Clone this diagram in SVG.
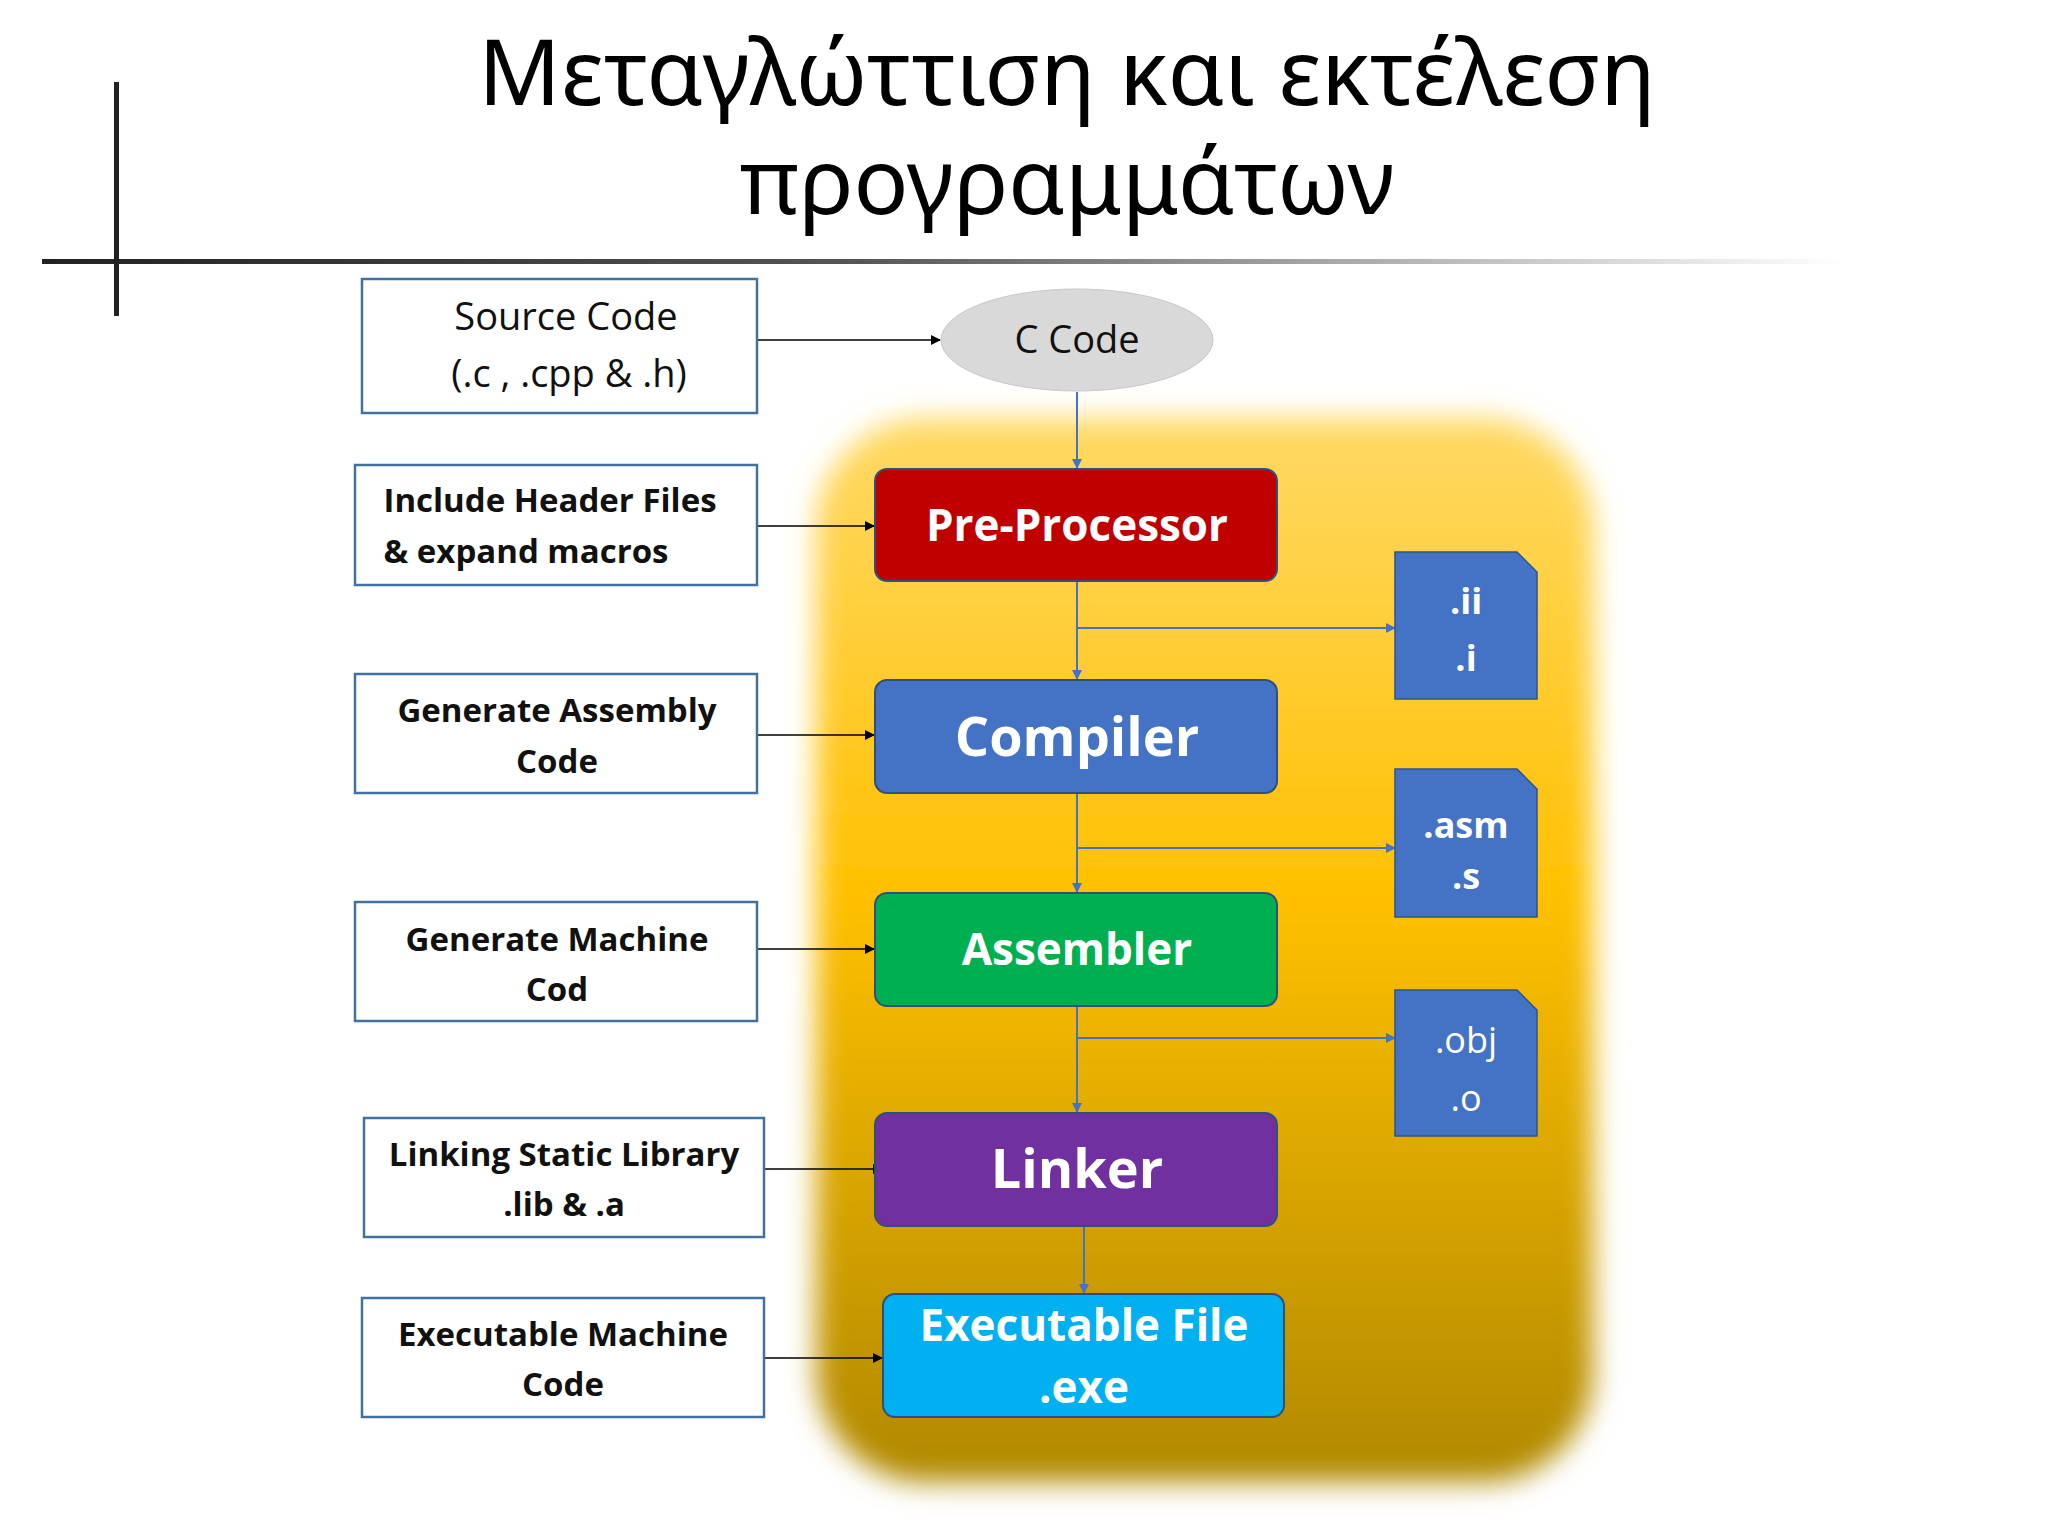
<svg xmlns="http://www.w3.org/2000/svg" width="2048" height="1536" viewBox="0 0 2048 1536">
<defs>
<linearGradient id="hl" x1="0" x2="1" y1="0" y2="0"><stop offset="0" stop-color="#222"/><stop offset="0.45" stop-color="#555"/><stop offset="1" stop-color="#fff"/></linearGradient>
<linearGradient id="yb" x1="0" x2="0" y1="0" y2="1"><stop offset="0" stop-color="#ffd966"/><stop offset="0.45" stop-color="#ffc000"/><stop offset="1" stop-color="#b08800"/></linearGradient>
<filter id="bl" x="-10%" y="-10%" width="120%" height="120%"><feGaussianBlur stdDeviation="14"/></filter>
<marker id="ak" markerWidth="10" markerHeight="10" refX="9" refY="5" orient="auto" markerUnits="userSpaceOnUse"><path d="M0,0 L10,5 L0,10 z" fill="#000"/></marker>
<marker id="ab" markerWidth="10" markerHeight="10" refX="9" refY="5" orient="auto" markerUnits="userSpaceOnUse"><path d="M0,0 L10,5 L0,10 z" fill="#4472c4"/></marker>
<style>
.lb{fill:#fff;stroke:#41719c;stroke-width:2.5}
.lt{font-family:"Open Sans","Liberation Sans",sans-serif;font-weight:bold;font-size:33px;fill:#111;text-anchor:middle}
.st{font-family:"Open Sans","Liberation Sans",sans-serif;font-size:38px;fill:#111;text-anchor:middle}
.nt{font-family:"Open Sans","Liberation Sans",sans-serif;font-weight:bold;fill:#fff;text-anchor:middle}
.nd{stroke:#2f4f7f;stroke-width:2}
.fi{fill:#4472c4;stroke:#2f528f;stroke-width:1.5}
.ft{font-family:"Open Sans","Liberation Sans",sans-serif;font-size:36px;fill:#fff;text-anchor:middle}
.ck{stroke:#000;stroke-width:1.5;fill:none;marker-end:url(#ak)}
.cb{stroke:#4472c4;stroke-width:2;fill:none;marker-end:url(#ab)}
</style>
</defs>
<rect width="2048" height="1536" fill="#fff"/>
<g id="title" font-family="'Noto Sans','Open Sans',sans-serif" font-size="91" fill="#000" text-anchor="middle">
<text x="1067" y="105">Μεταγλώττιση και εκτέλεση</text>
<text x="1067" y="214">προγραμμάτων</text>
</g>
<rect x="42" y="259" width="1800" height="5" fill="url(#hl)"/>
<rect x="114" y="82" width="5" height="234" fill="#222"/>
<rect x="816" y="418" width="777" height="1064" rx="110" fill="url(#yb)" filter="url(#bl)"/>
<g id="connectors">
<path class="ck" d="M757,340 H940"/>
<path class="ck" d="M757,526 H874"/>
<path class="ck" d="M757,735 H874"/>
<path class="ck" d="M757,949 H874"/>
<path class="ck" d="M764,1169 H882"/>
<path class="ck" d="M764,1358 H882"/>
<path class="cb" d="M1077,392 V468"/>
<path class="cb" d="M1077,581 V679"/>
<path class="cb" d="M1077,793 V892"/>
<path class="cb" d="M1077,1006 V1112"/>
<path class="cb" d="M1084,1226 V1293"/>
<path class="cb" d="M1077,628 H1395"/>
<path class="cb" d="M1077,848 H1395"/>
<path class="cb" d="M1077,1038 H1395"/>
</g>
<g id="src"><rect class="lb" x="362" y="279" width="395" height="134"/><text class="st" x="566" y="330">Source Code</text><text class="st" x="569" y="387">(.c , .cpp &amp; .h)</text></g>
<g id="ccode"><ellipse cx="1077" cy="340" rx="136" ry="51" fill="#d9d9d9" stroke="#c8c8c8"/><text class="st" x="1077" y="353">C Code</text></g>
<g id="inc"><rect class="lb" x="355" y="465" width="402" height="120"/><text class="lt" x="550" y="512">Include Header Files</text><text class="lt" x="526" y="563">&amp; expand macros</text></g>
<g id="gasm"><rect class="lb" x="355" y="674" width="402" height="119"/><text class="lt" x="557" y="722">Generate Assembly</text><text class="lt" x="557" y="773">Code</text></g>
<g id="gmach"><rect class="lb" x="355" y="902" width="402" height="119"/><text class="lt" x="557" y="951">Generate Machine</text><text class="lt" x="557" y="1001">Cod</text></g>
<g id="link"><rect class="lb" x="364" y="1118" width="400" height="119"/><text class="lt" x="564" y="1166">Linking Static Library</text><text class="lt" x="564" y="1216">.lib &amp; .a</text></g>
<g id="exm"><rect class="lb" x="362" y="1298" width="402" height="119"/><text class="lt" x="563" y="1346">Executable Machine</text><text class="lt" x="563" y="1396">Code</text></g>
<g id="pre"><rect class="nd" x="875" y="469" width="402" height="112" rx="12" fill="#c00000"/><text class="nt" x="1077" y="541" font-size="44">Pre-Processor</text></g>
<g id="comp"><rect class="nd" x="875" y="680" width="402" height="113" rx="12" fill="#4472c4"/><text class="nt" x="1077" y="756" font-size="54">Compiler</text></g>
<g id="asm"><rect class="nd" x="875" y="893" width="402" height="113" rx="12" fill="#00b050"/><text class="nt" x="1077" y="965" font-size="44">Assembler</text></g>
<g id="lnk"><rect class="nd" x="875" y="1113" width="402" height="113" rx="12" fill="#7030a0"/><text class="nt" x="1077" y="1188" font-size="54">Linker</text></g>
<g id="exe"><rect class="nd" x="883" y="1294" width="401" height="123" rx="12" fill="#00b0f0"/><text class="nt" x="1084" y="1341" font-size="44">Executable File</text><text class="nt" x="1084" y="1403" font-size="44">.exe</text></g>
<g id="f1"><path class="fi" d="M1395,552 H1517 L1537,572 V699 H1395 Z"/><text class="ft" x="1466" y="614" font-weight="bold">.ii</text><text class="ft" x="1466" y="671" font-weight="bold">.i</text></g>
<g id="f2"><path class="fi" d="M1395,769 H1517 L1537,789 V917 H1395 Z"/><text class="ft" x="1466" y="838" font-size="33" font-weight="bold">.asm</text><text class="ft" x="1466" y="889" font-size="33" font-weight="bold">.s</text></g>
<g id="f3"><path class="fi" d="M1395,990 H1517 L1537,1010 V1136 H1395 Z"/><text class="ft" x="1466" y="1053">.obj</text><text class="ft" x="1466" y="1111">.o</text></g>
</svg>
